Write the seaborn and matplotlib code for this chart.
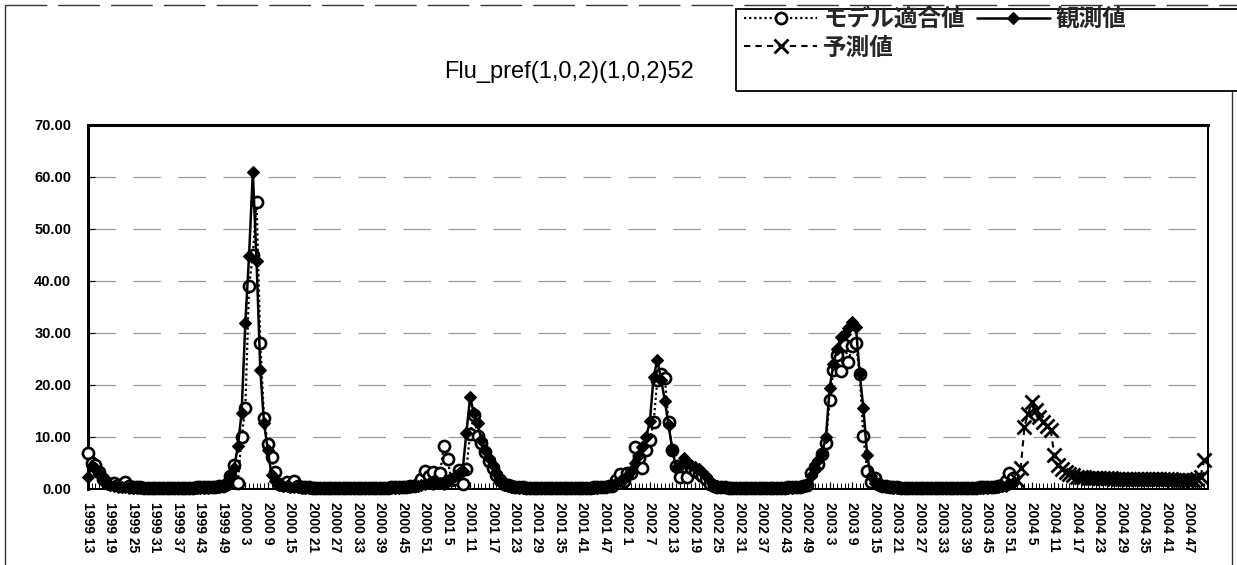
import numpy as np
import pandas as pd
import matplotlib
matplotlib.use("Agg")
import matplotlib.pyplot as plt
from matplotlib.ticker import MultipleLocator
from matplotlib.font_manager import FontProperties
from matplotlib.lines import Line2D
from matplotlib.patches import Rectangle
import seaborn as sns

# Weekly influenza reports per sentinel, starting at 1999 week 13
observed = [
    2.4, 4.5, 4.0, 3.0, 2.0, 1.2, 0.7, 0.5, 0.4, 0.3, 0.3, 0.2,
    0.2, 0.2, 0.1, 0.1, 0.1, 0.1, 0.1, 0.1, 0.1, 0.1, 0.1, 0.1,
    0.1, 0.1, 0.1, 0.1, 0.1, 0.2, 0.2, 0.2, 0.2, 0.3, 0.3, 0.4,
    0.5, 1.0, 2.5, 4.0, 8.2, 14.6, 31.9, 44.9, 60.9, 43.8, 22.9, 12.6,
    7.5, 2.7, 1.5, 0.8, 0.6, 0.5, 0.4, 0.3,
    0.3, 0.2, 0.2, 0.2, 0.1, 0.1, 0.1, 0.1, 0.1, 0.1, 0.1, 0.1,
    0.1, 0.1, 0.1, 0.1, 0.1, 0.1, 0.1, 0.1, 0.1, 0.1, 0.1, 0.1,
    0.1, 0.2, 0.2, 0.2, 0.3, 0.3, 0.4, 0.5,
    0.6, 0.8, 1.0, 1.2, 1.0, 1.5, 1.2, 1.0, 1.5, 2.0, 2.5, 3.0,
    3.5, 10.7, 17.6, 14.6, 12.6, 9.5, 7.5, 6.0, 4.6, 3.0, 1.5, 0.8,
    0.5, 0.4, 0.3, 0.2, 0.2, 0.2, 0.1, 0.1, 0.1, 0.1, 0.1, 0.1,
    0.1, 0.1, 0.1, 0.1, 0.1, 0.1, 0.1, 0.1, 0.1, 0.1, 0.1, 0.2,
    0.2, 0.3, 0.4, 0.6,
    0.8, 1.2, 1.5, 2.0, 2.5, 3.5, 5.0, 6.5, 8.0, 10.0,
    13.0, 21.6, 24.8, 21.0, 17.0, 12.3, 7.5, 4.0, 4.5, 5.9,
    5.0, 4.6, 4.3, 3.8, 3.2, 2.5, 1.5, 0.8, 0.5,
    0.4, 0.3, 0.2, 0.2, 0.1, 0.1, 0.1, 0.1, 0.1, 0.1, 0.1, 0.1,
    0.1, 0.1, 0.1, 0.1, 0.1, 0.1, 0.2, 0.2, 0.3, 0.4, 0.6,
    1.0, 2.5, 4.0, 5.5, 7.0, 10.0, 19.4, 24.0, 27.0, 29.3, 29.9,
    31.0, 32.2, 31.2, 22.3, 15.5, 6.5, 2.5, 1.2, 0.7, 0.5,
    0.4, 0.3, 0.2, 0.2, 0.1, 0.1, 0.1, 0.1, 0.1, 0.1, 0.1, 0.1,
    0.1, 0.1, 0.1, 0.1, 0.1, 0.1, 0.1, 0.1, 0.1, 0.1, 0.1, 0.1,
    0.1, 0.2, 0.2, 0.2, 0.3, 0.3, 0.4, 0.5, 0.6, 1.0, 1.2,
]

# In-sample fitted values of the seasonal ARIMA model
fitted = [
    6.9, 5.0, 4.6, 3.3, 2.0, 1.2, 1.0, 1.2, 0.8, 0.6, 1.3, 0.5,
    0.4, 0.3, 0.3, 0.2, 0.2, 0.2, 0.2, 0.2, 0.2, 0.2, 0.2, 0.2,
    0.2, 0.2, 0.2, 0.2, 0.2, 0.3, 0.3, 0.3, 0.3, 0.4, 0.4, 0.5,
    0.6, 1.0, 2.5, 4.6, 1.2, 10.0, 15.6, 39.0, 45.0, 55.1, 28.0, 13.6,
    8.7, 6.2, 3.3, 1.0, 0.8, 1.4, 0.6, 1.6,
    0.5, 0.4, 0.3, 0.3, 0.2, 0.2, 0.2, 0.2, 0.2, 0.2, 0.2, 0.2,
    0.2, 0.2, 0.2, 0.2, 0.2, 0.2, 0.2, 0.2, 0.2, 0.2, 0.2, 0.2,
    0.2, 0.3, 0.3, 0.3, 0.4, 0.4, 0.5, 0.6,
    1.0, 2.0, 3.5, 2.5, 3.3, 1.5, 3.1, 8.3, 5.7, 1.7, 2.0, 3.7,
    1.0, 3.8, 10.5, 14.2, 10.1, 8.8, 7.2, 5.3, 4.0, 2.7, 1.8, 1.0,
    0.7, 0.5, 0.4, 0.3, 0.3, 0.2, 0.2, 0.2, 0.2, 0.2, 0.2, 0.2,
    0.2, 0.2, 0.2, 0.2, 0.2, 0.2, 0.2, 0.2, 0.2, 0.2, 0.2, 0.3,
    0.3, 0.3, 0.4, 0.5,
    0.6, 1.7, 2.8, 1.5, 3.1, 3.1, 8.1, 6.0, 4.0, 7.5, 9.4, 12.9,
    21.0, 22.2, 21.3, 12.8, 7.5, 4.4, 2.4, 4.5, 2.4, 4.0, 3.5, 3.0,
    2.5, 2.0, 1.0, 0.6, 0.4,
    0.3, 0.3, 0.2, 0.2, 0.2, 0.2, 0.2, 0.2, 0.2, 0.2, 0.2, 0.2,
    0.2, 0.2, 0.2, 0.2, 0.2, 0.2, 0.3, 0.3, 0.3, 0.4, 0.5,
    0.8, 3.0, 4.3, 4.9, 6.8, 8.8, 17.1, 22.9, 25.8, 22.6, 27.7,
    24.5, 27.5, 28.0, 22.2, 10.1, 3.5, 1.4, 2.1, 1.0, 0.6,
    0.5, 0.4, 0.3, 0.3, 0.2, 0.2, 0.2, 0.2, 0.2, 0.2, 0.2, 0.2,
    0.2, 0.2, 0.2, 0.2, 0.2, 0.2, 0.2, 0.2, 0.2, 0.2, 0.2, 0.2,
    0.2, 0.3, 0.3, 0.3, 0.4, 0.4, 0.5, 0.8, 1.5, 3.0, 2.1,
]

# Out-of-sample forecast, 2004 week 1 onwards
forecast_start = len(observed)
forecast = [
    1.7, 4.0, 12.0, 14.5, 16.8, 15.2, 13.9, 12.9, 12.2, 11.3, 6.5, 4.6,
    3.8, 3.2, 2.8, 2.6, 2.4, 2.3, 2.3, 2.2, 2.2, 2.2, 2.1, 2.1,
    2.1, 2.1, 2.0, 2.0, 2.0, 2.0, 2.0, 2.0, 2.0, 1.9, 1.9, 1.9,
    1.9, 1.9, 1.9, 1.9, 1.9, 1.9, 1.8, 1.8, 1.8, 1.8, 1.8, 1.8,
    2.0, 2.4, 5.6,
]

week_labels = [
    "1999 13", "1999 19", "1999 25", "1999 31", "1999 37", "1999 43", "1999 49",
    "2000 3", "2000 9", "2000 15", "2000 21", "2000 27", "2000 33", "2000 39",
    "2000 45", "2000 51",
    "2001 5", "2001 11", "2001 17", "2001 23", "2001 29", "2001 35", "2001 41",
    "2001 47",
    "2002 1", "2002 7", "2002 13", "2002 19", "2002 25", "2002 31", "2002 37",
    "2002 43", "2002 49",
    "2003 3", "2003 9", "2003 15", "2003 21", "2003 27", "2003 33", "2003 39",
    "2003 45", "2003 51",
    "2004 5", "2004 11", "2004 17", "2004 23", "2004 29", "2004 35", "2004 41",
    "2004 47",
]
label_step = 6
n_weeks = 300
y_ticks = [0, 10, 20, 30, 40, 50, 60, 70]

series_names = ["モデル適合値", "観測値", "予測値"]
chart_title = "Flu_pref(1,0,2)(1,0,2)52"

sns.set_theme(style="white")
plt.rcParams["font.family"] = ["Liberation Sans", "DejaVu Sans"]

W, H = 1237, 565
fig = plt.figure(figsize=(W / 100, H / 100), dpi=100)
fig.patch.set_facecolor("white")
ax = fig.add_axes([88 / W, 1 - 489 / H, (1208 - 88) / W, (489 - 125) / H])

fit_df = pd.DataFrame({"week": np.arange(len(fitted)), "value": fitted})
obs_df = pd.DataFrame({"week": np.arange(len(observed)), "value": observed})
fc_df = pd.DataFrame({"week": np.arange(forecast_start, forecast_start + len(forecast)),
                      "value": forecast})

sns.lineplot(data=fit_df, x="week", y="value", ax=ax, color="black",
             linestyle=(0, (1, 1.3)), linewidth=1.6, marker="o", markersize=8,
             markerfacecolor="white", markeredgecolor="black", markeredgewidth=1.9,
             label=series_names[0], legend=False, clip_on=False, zorder=3)
sns.lineplot(data=obs_df, x="week", y="value", ax=ax, color="black",
             linestyle="-", linewidth=1.8, marker="D", markersize=5.8,
             markerfacecolor="black", markeredgecolor="black", markeredgewidth=0.8,
             label=series_names[1], legend=False, clip_on=False, zorder=4)
sns.lineplot(data=fc_df, x="week", y="value", ax=ax, color="black",
             linestyle=(0, (3, 2.5)), linewidth=1.5, marker="x", markersize=10,
             markerfacecolor="black", markeredgecolor="black", markeredgewidth=2.0,
             label=series_names[2], legend=False, clip_on=False, zorder=5)

ax.set_xlim(0, n_weeks - 1)
ax.set_ylim(0, 70)
ax.set_xlabel("")
ax.set_ylabel("")

ax.set_yticks(y_ticks, labels=[f"{v:.2f}" for v in y_ticks])
ax.set_xticks(np.arange(len(week_labels)) * label_step, labels=week_labels,
              rotation=-90, va="top", ha="center")
ax.xaxis.set_minor_locator(MultipleLocator(1))

for lbl in ax.get_yticklabels():
    lbl.set_fontsize(10.5)
    lbl.set_fontweight("bold")
for lbl in ax.get_xticklabels():
    lbl.set_fontsize(10)
    lbl.set_fontweight("bold")

ax.tick_params(axis="y", which="major", direction="in", length=5, width=0.8,
               pad=12, colors="black", left=True)
ax.tick_params(axis="x", which="major", direction="in", length=5, width=0.9,
               pad=9, colors="black", bottom=True)
ax.tick_params(axis="x", which="minor", direction="in", length=4, width=0.7,
               bottom=True, colors="black")

ax.yaxis.grid(True, color="#9a9a9a", linewidth=0.9, linestyle=(0, (22, 14)))
ax.xaxis.grid(False)
ax.set_axisbelow(True)

for side, lw in [("left", 2.2), ("top", 2.2), ("right", 1.4), ("bottom", 1.4)]:
    ax.spines[side].set_visible(True)
    ax.spines[side].set_color("black")
    ax.spines[side].set_linewidth(lw)

# Chart title and legend across the top
fig.text(569 / W, 1 - 72 / H, chart_title, ha="center", va="center",
         fontsize=17, color="black", family=["Liberation Sans", "DejaVu Sans"])

handles, labels = ax.get_legend_handles_labels()
order = [0, 2, 1]  # column-major fill: fitted and forecast on the left, observed on the right
leg_font = FontProperties(family=["Noto Sans CJK JP", "DejaVu Sans"], weight="bold", size=17)
fig.legend([handles[i] for i in order], [labels[i] for i in order], ncol=2,
           loc="upper left", bbox_to_anchor=(744 / W, 1 - 7 / H), frameon=False,
           prop=leg_font, handlelength=3.1, handletextpad=0.25, columnspacing=0.5,
           labelspacing=0.2, borderpad=0.0, borderaxespad=0.0, numpoints=1)

fig.patches.append(Rectangle((736 / W, 1 - 91 / H), (1245 - 736) / W, (91 - 9) / H,
                             transform=fig.transFigure, fill=False,
                             edgecolor="black", linewidth=1.3, zorder=0))

# Outer chart frame
frame_kw = dict(color="#333333", linewidth=1.0, transform=fig.transFigure)
fig.lines.append(Line2D([5 / W, 1.0], [1 - 5 / H, 1 - 5 / H],
                        linestyle=(0, (30, 8)), **frame_kw))
fig.lines.append(Line2D([5 / W, 5 / W], [0.0, 1 - 5 / H], **frame_kw))
fig.lines.append(Line2D([1232 / W, 1232 / W], [0.0, 1 - 92 / H], **frame_kw))

fig.savefig("out.png", dpi=100)
